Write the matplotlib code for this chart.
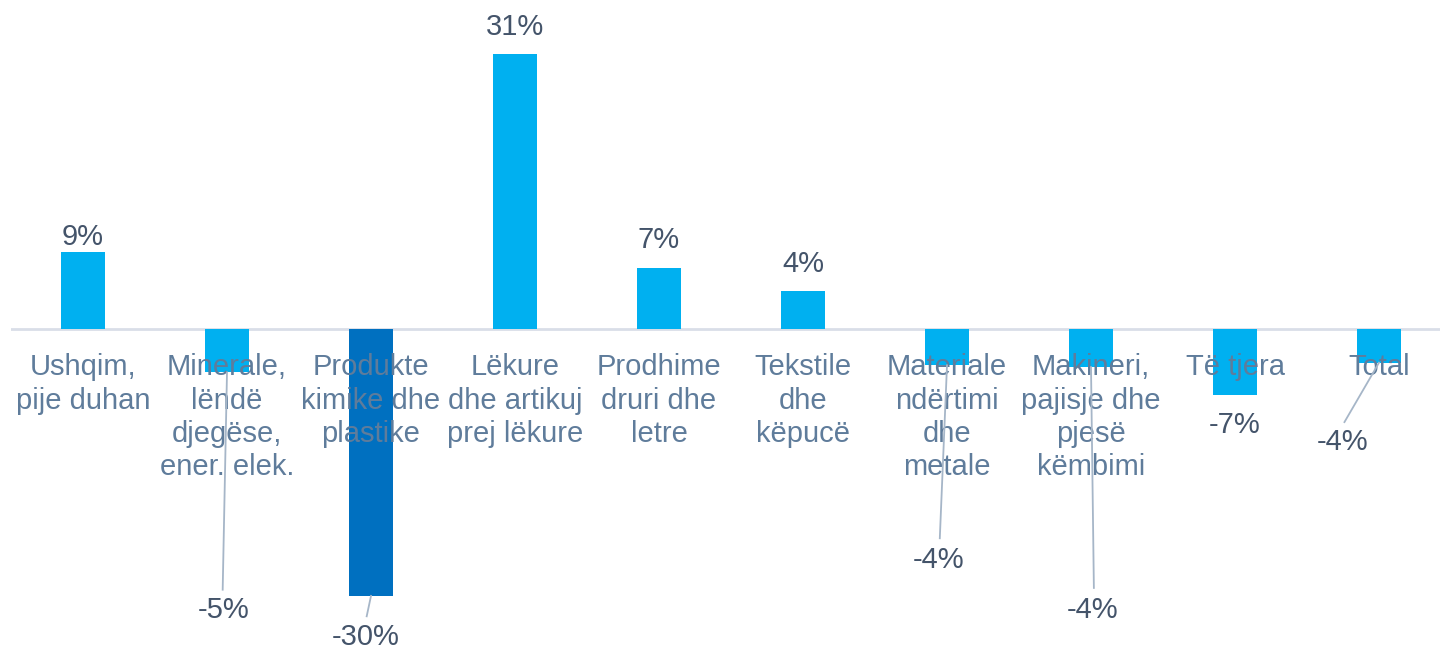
import matplotlib
matplotlib.use("Agg")
import matplotlib.pyplot as plt

# datos
categorias = [
    "Ushqim,\npije duhan",
    "Minerale,\nlëndë\ndjegëse,\nener. elek.",
    "Produkte\nkimike dhe\nplastike",
    "Lëkure\ndhe artikuj\nprej lëkure",
    "Prodhime\ndruri dhe\nletre",
    "Tekstile\ndhe\nkëpucë",
    "Materiale\nndërtimi\ndhe\nmetale",
    "Makineri,\npajisje dhe\npjesë\nkëmbimi",
    "Të tjera",
    "Total",
]
valores = [8.7, -4.9, -30.1, 31.0, 6.9, 4.3, -4.1, -4.3, -7.4, -3.8]
etiquetas = ["9%", "-5%", "-30%", "31%", "7%", "4%", "-4%", "-4%", "-7%", "-4%"]

# posicion de etiquetas (dx en categorias, y en datos) y lineas guia
pos_etiqueta = [(0.0, 10.4), (-0.02, -31.7), (-0.04, -34.7), (0.0, 34.0), (0.0, 10.0),
                (0.0, 7.3), (-0.06, -26.0), (0.01, -31.7), (0.0, -10.8), (-0.25, -12.7)]
guia = [None, (-0.03, -29.4), (-0.03, -32.4), None, None,
        None, (-0.05, -23.6), (0.02, -29.2), None, (-0.24, -10.5)]

azul = "#00b0f0"
azul_osc = "#0070c0"
colores = [azul_osc if i == 2 else azul for i in range(len(valores))]

fig = plt.figure(figsize=(14.4, 6.5), dpi=100)
ax = fig.add_axes([11 / 1440, 0, 1, 1])
x = list(range(len(valores)))
ax.bar(x, valores, width=0.31, color=colores, zorder=2)
ax.axhline(0, color="#d9dee8", lw=2, zorder=1)
ax.set_xlim(-0.5, 9.5)
ax.set_ylim(-36.2, 37.1)
ax.axis("off")

fuente = "Liberation Sans"
for i, cat in enumerate(categorias):
    ax.text(i, -2.75, cat, ha="center", va="top", fontsize=21, color="#5f7c9b",
            family=fuente, linespacing=1.24, zorder=3)

for i, (v, lab) in enumerate(zip(valores, etiquetas)):
    dx, y = pos_etiqueta[i]
    ax.text(i + dx, y, lab, ha="center", va="center", fontsize=21, color="#44546a",
            family=fuente, zorder=4)
    if guia[i] is not None:
        gx, gy = guia[i]
        ax.plot([i, i + gx], [v, gy], color="#a6b6c8", lw=1.3, zorder=3)

fig.savefig("out.png", dpi=100)
